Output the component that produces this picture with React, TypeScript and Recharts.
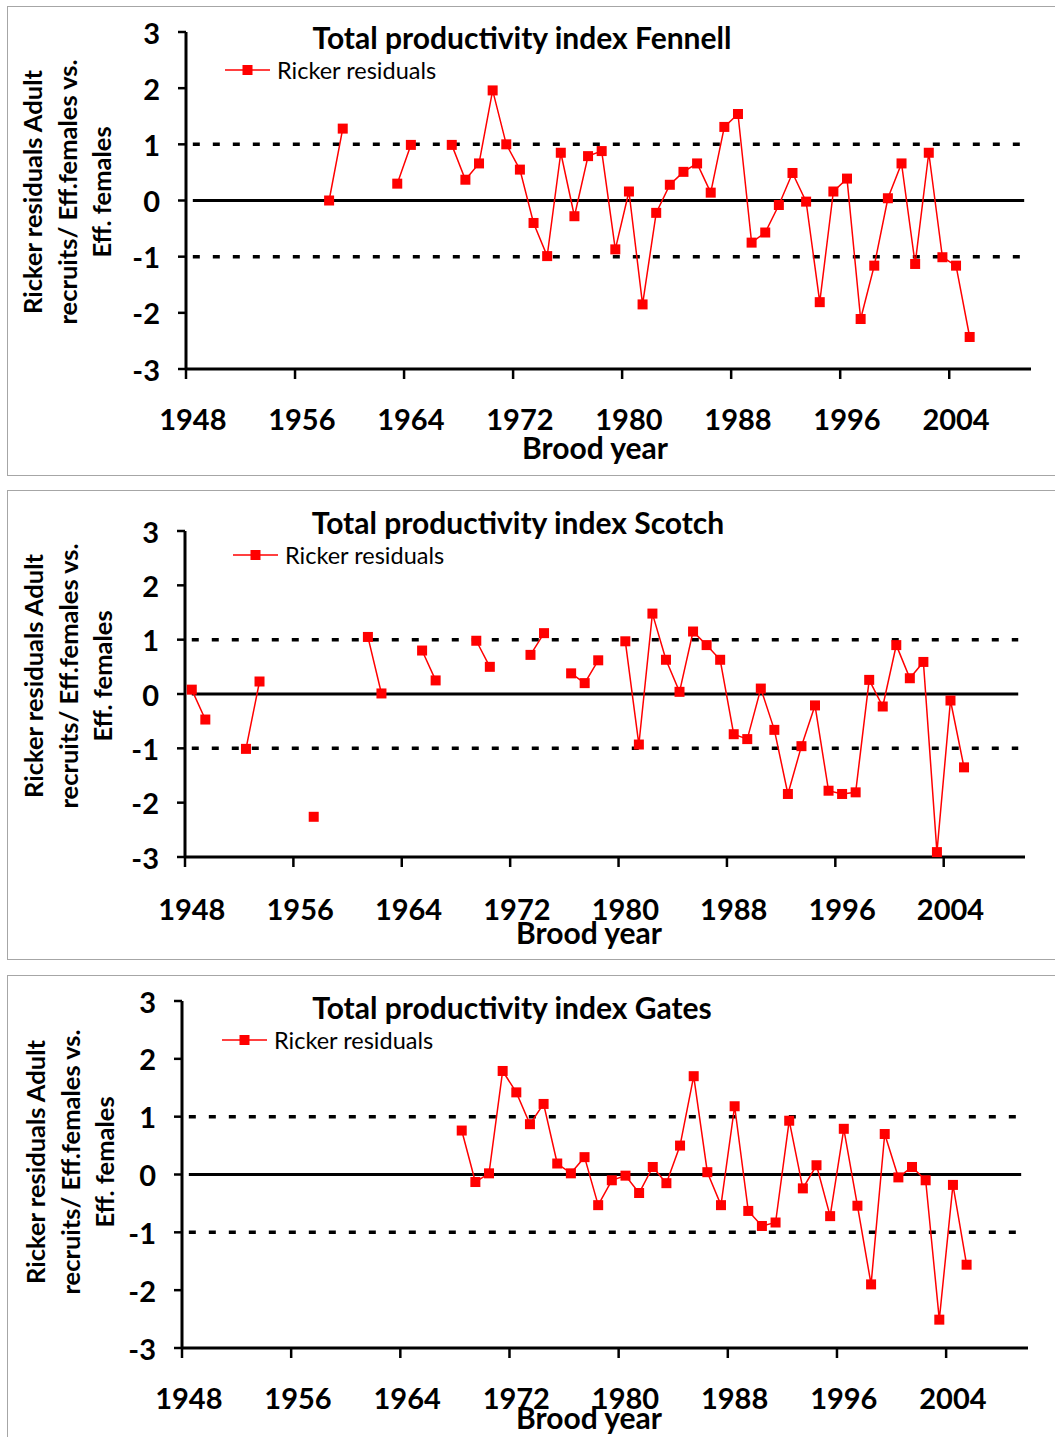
import React from "react";
import { LineChart, Line, XAxis, YAxis, ReferenceLine } from "recharts";

const YEARS = [
  1948, 1949, 1950, 1951, 1952, 1953, 1954, 1955, 1956, 1957,
  1958, 1959, 1960, 1961, 1962, 1963, 1964, 1965, 1966, 1967,
  1968, 1969, 1970, 1971, 1972, 1973, 1974, 1975, 1976, 1977,
  1978, 1979, 1980, 1981, 1982, 1983, 1984, 1985, 1986, 1987,
  1988, 1989, 1990, 1991, 1992, 1993, 1994, 1995, 1996, 1997,
  1998, 1999, 2000, 2001, 2002, 2003, 2004, 2005,
];

const FENNELL = [
  null, null, null, null, null, null, null, null, null, null,
  0.0, 1.28, null, null, null, 0.3, 0.99, null, null, 0.99,
  0.37, 0.66, 1.96, 1.0, 0.55, -0.4, -0.99, 0.85, -0.28, 0.79,
  0.88, -0.87, 0.16, -1.85, -0.22, 0.28, 0.51, 0.66, 0.14, 1.31,
  1.54, -0.75, -0.57, -0.08, 0.49, -0.02, -1.81, 0.16, 0.39, -2.11,
  -1.16, 0.04, 0.66, -1.13, 0.85, -1.01, -1.16, -2.43,
];

const SCOTCH = [
  0.08, -0.47, null, null, -1.01, 0.23, null, null, null, -2.26,
  null, null, null, 1.05, 0.01, null, null, 0.8, 0.25, null,
  null, 0.98, 0.5, null, null, 0.72, 1.12, null, 0.38, 0.2,
  0.62, null, 0.97, -0.93, 1.48, 0.63, 0.04, 1.15, 0.9, 0.63,
  -0.74, -0.83, 0.1, -0.66, -1.84, -0.96, -0.21, -1.78, -1.84, -1.81,
  0.26, -0.23, 0.9, 0.29, 0.59, -2.91, -0.12, -1.35,
];

const GATES = [
  null, null, null, null, null, null, null, null, null, null,
  null, null, null, null, null, null, null, null, null, null,
  0.76, -0.13, 0.02, 1.79, 1.42, 0.87, 1.22, 0.19, 0.02, 0.3,
  -0.53, -0.1, -0.02, -0.32, 0.13, -0.15, 0.5, 1.7, 0.04, -0.53,
  1.18, -0.63, -0.89, -0.83, 0.93, -0.24, 0.16, -0.72, 0.79, -0.54,
  -1.9, 0.7, -0.05, 0.13, -0.1, -2.51, -0.18, -1.56,
];

const X_TICKS = [1948, 1956, 1964, 1972, 1980, 1988, 1996, 2004];
const Y_TICKS = [-3, -2, -1, 0, 1, 2, 3];

const FONT = "Lato, 'Open Sans', sans-serif";
const RED = "#FF0000";
const PANEL_H = 470;

const PANELS = [
  {
    name: "Fennell", values: FENNELL, top: 6,
    plotLeft: 186, plotRight: 1031, plotTop: 32, plotBottom: 369,
    titleX: 522, titleY: 37, legendX: 225, legendY: 70,
    tickY: 418, broodX: 595, broodY: 447, yTitleX: 67, yTitleY: 192,
  },
  {
    name: "Scotch", values: SCOTCH, top: 490,
    plotLeft: 185, plotRight: 1025, plotTop: 531, plotBottom: 857,
    titleX: 518, titleY: 522, legendX: 233, legendY: 555,
    tickY: 908, broodX: 589, broodY: 932, yTitleX: 68, yTitleY: 676,
  },
  {
    name: "Gates", values: GATES, top: 975,
    plotLeft: 182, plotRight: 1028, plotTop: 1001, plotBottom: 1348,
    titleX: 512, titleY: 1007, legendX: 222, legendY: 1040,
    tickY: 1397, broodX: 589, broodY: 1417, yTitleX: 70, yTitleY: 1162,
  },
];

const SquareDot = (props: any) => {
  const { cx, cy, index } = props;
  if (cx == null || cy == null) return <g key={`d-${index}`} />;
  return <rect key={`d-${index}`} x={cx - 5} y={cy - 5} width={10} height={10} fill={RED} />;
};

function Panel({ cfg }: { cfg: (typeof PANELS)[number] }) {
  const data = YEARS.map((y, i) => ({ x: y + 0.5, v: cfg.values[i] }));
  const YW = 80;
  const XH = 40;
  const half = (cfg.plotRight - cfg.plotLeft) / 62 / 2;
  const margin = {
    top: cfg.plotTop - cfg.top,
    right: 1055 - cfg.plotRight,
    left: cfg.plotLeft - YW,
    bottom: PANEL_H - (cfg.plotBottom - cfg.top) - XH,
  };

  const xTick = (p: any) => (
    <text
      x={p.x + half}
      y={cfg.tickY - cfg.top}
      textAnchor="middle"
      dominantBaseline="central"
      fontFamily={FONT}
      fontWeight={700}
      fontSize={29}
      fill="#000"
    >
      {p.payload.value}
    </text>
  );

  const yTick = (p: any) => (
    <text
      x={cfg.plotLeft - 26}
      y={p.y}
      textAnchor="end"
      dominantBaseline="central"
      fontFamily={FONT}
      fontWeight={700}
      fontSize={29}
      fill="#000"
    >
      {p.payload.value}
    </text>
  );

  return (
    <>
      <div
        style={{
          position: "absolute", left: 7, top: cfg.top, width: 1050, height: PANEL_H - 2,
          border: "1px solid #a6a6a6", background: "#fff",
        }}
      />
      <div style={{ position: "absolute", left: 0, top: cfg.top }}>
        <LineChart width={1055} height={PANEL_H} data={data} margin={margin}>
          <XAxis
            dataKey="x"
            type="number"
            domain={[1948, 2010]}
            ticks={X_TICKS}
            interval={0}
            allowDataOverflow
            height={XH}
            axisLine={{ stroke: "#000", strokeWidth: 3 }}
            tickLine={{ stroke: "#000", strokeWidth: 2.5 }}
            tickSize={10}
            tick={xTick}
          />
          <YAxis
            type="number"
            domain={[-3, 3]}
            ticks={Y_TICKS}
            interval={0}
            width={YW}
            axisLine={{ stroke: "#000", strokeWidth: 3 }}
            tickLine={{ stroke: "#000", strokeWidth: 2.5 }}
            tickSize={8}
            tick={yTick}
          />
          <ReferenceLine
            segment={[{ x: 1948.5, y: 0 }, { x: 2009.5, y: 0 }]}
            stroke="#000"
            strokeWidth={3}
          />
          <ReferenceLine
            segment={[{ x: 1948.5, y: 1 }, { x: 2009.5, y: 1 }]}
            stroke="#000"
            strokeWidth={3.5}
            strokeDasharray="7 13"
          />
          <ReferenceLine
            segment={[{ x: 1948.5, y: -1 }, { x: 2009.5, y: -1 }]}
            stroke="#000"
            strokeWidth={3.5}
            strokeDasharray="7 13"
          />
          <Line
            dataKey="v"
            stroke={RED}
            strokeWidth={1.5}
            dot={SquareDot}
            activeDot={false}
            isAnimationActive={false}
          />
        </LineChart>
      </div>
      <div
        style={{
          position: "absolute", left: cfg.titleX, top: cfg.titleY, transform: "translate(-50%, -50%)",
          fontFamily: FONT, fontWeight: 700, fontSize: 30, whiteSpace: "nowrap", color: "#000",
        }}
      >
        Total productivity index {cfg.name}
      </div>
      <div
        style={{
          position: "absolute", left: cfg.legendX, top: cfg.legendY, transform: "translateY(-50%)",
          display: "flex", alignItems: "center", fontFamily: FONT, fontSize: 23.5, color: "#000",
          whiteSpace: "nowrap",
        }}
      >
        <svg width={45} height={12}>
          <line x1={0} y1={6} x2={45} y2={6} stroke={RED} strokeWidth={1.5} />
          <rect x={17.5} y={1} width={10} height={10} fill={RED} />
        </svg>
        <span style={{ marginLeft: 7 }}>Ricker residuals</span>
      </div>
      <div
        style={{
          position: "absolute", left: cfg.broodX, top: cfg.broodY, transform: "translate(-50%, -50%)",
          fontFamily: FONT, fontWeight: 700, fontSize: 30, whiteSpace: "nowrap", color: "#000",
        }}
      >
        Brood year
      </div>
      <div
        style={{
          position: "absolute", left: cfg.yTitleX, top: cfg.yTitleY,
          transform: "translate(-50%, -50%) rotate(-90deg)",
          fontFamily: FONT, fontWeight: 700, fontSize: 25.5, lineHeight: "34.5px",
          textAlign: "center", whiteSpace: "pre", color: "#000",
        }}
      >
        {"Ricker residuals Adult\nrecruits/ Eff.females vs.\nEff. females"}
      </div>
    </>
  );
}

export default function App() {
  return (
    <div
      style={{
        position: "absolute", left: 0, top: 0, width: 1055, height: 1437,
        overflow: "hidden", background: "#fff",
      }}
    >
      {PANELS.map((cfg) => (
        <Panel key={cfg.name} cfg={cfg} />
      ))}
    </div>
  );
}
